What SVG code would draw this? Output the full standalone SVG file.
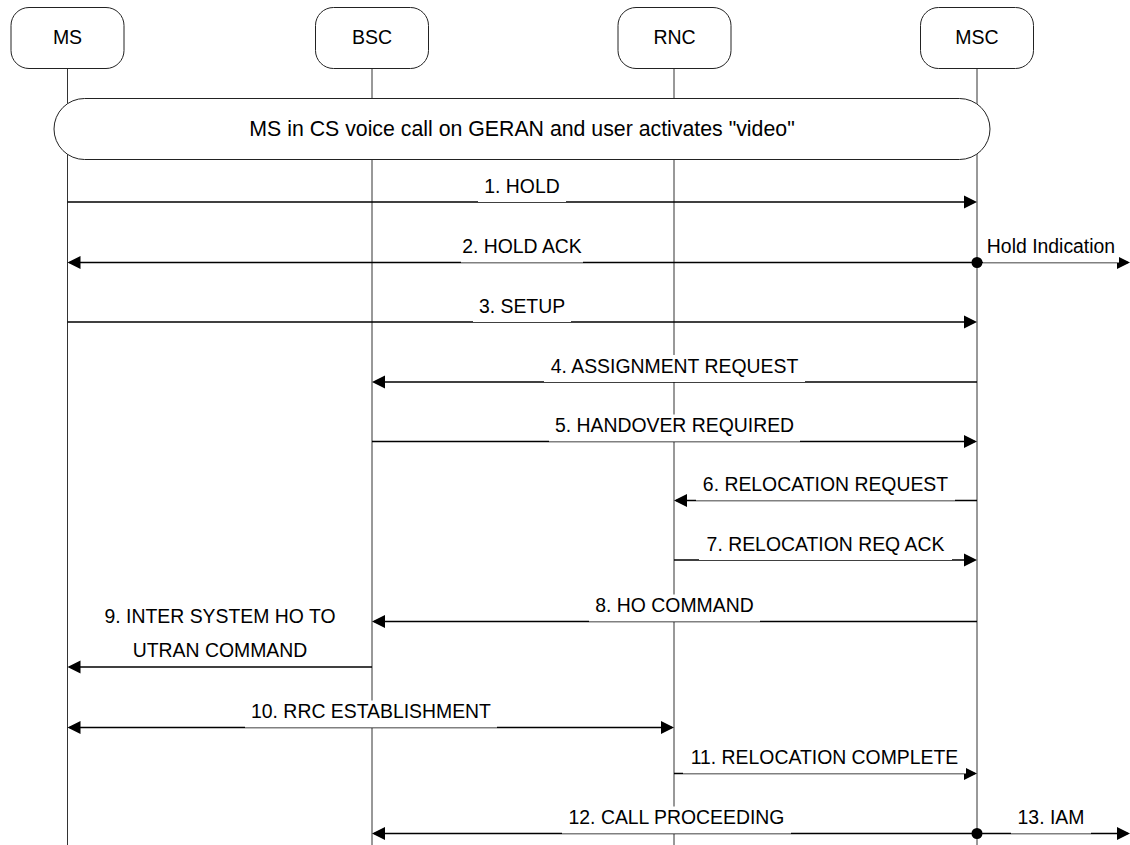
<svg xmlns="http://www.w3.org/2000/svg" width="1130" height="845" viewBox="0 0 1130 845">
<style>
.box{fill:#fff;stroke:#222;stroke-width:1}
.life{stroke:#333;stroke-width:1;fill:none}
.msg{stroke:#000;stroke-width:1.3;fill:none}
.lbl{font-family:"Liberation Sans",Arial,sans-serif;font-size:19.4px;fill:#000;text-anchor:middle}
.nlbl{font-family:"Liberation Sans",Arial,sans-serif;font-size:19.5px;fill:#000;text-anchor:middle}
.bg{fill:#fff}
.dot{fill:#000}
</style>
<defs>
<marker id="arr" markerUnits="userSpaceOnUse" markerWidth="14" markerHeight="14" refX="11" refY="6.5" orient="auto-start-reverse" viewBox="0 0 14 13">
<path d="M0,0 L13,6.5 L0,13 z" fill="#000"/>
</marker>
</defs>
<rect width="1130" height="845" fill="#fff"/>
<g id="lifelines">
<line class="life" x1="67.5" y1="68" x2="67.5" y2="845"/>
<line class="life" x1="372" y1="68" x2="372" y2="845"/>
<line class="life" x1="674" y1="68" x2="674" y2="845"/>
<line class="life" x1="977" y1="68" x2="977" y2="845"/>
</g>
<g id="MS"><rect class="box" x="11" y="7.5" width="113" height="61" rx="18"/><text class="nlbl" x="67.5" y="44">MS</text></g>
<g id="BSC"><rect class="box" x="315.5" y="7.5" width="113" height="61" rx="18"/><text class="nlbl" x="372" y="44">BSC</text></g>
<g id="RNC"><rect class="box" x="618" y="7.5" width="113" height="61" rx="18"/><text class="nlbl" x="674.5" y="44">RNC</text></g>
<g id="MSC"><rect class="box" x="920.5" y="7.5" width="113" height="61" rx="18"/><text class="nlbl" x="977" y="44">MSC</text></g>
<g id="banner"><rect class="box" x="54" y="98.5" width="936" height="61" rx="30.5"/><text x="522" y="136" style="font-family:'Liberation Sans',Arial,sans-serif;font-size:21.3px;text-anchor:middle">MS in CS voice call on GERAN and user activates "video"</text></g>
<g id="connectors">
<g id="m1"><line class="msg" x1="67.5" y1="202" x2="975" y2="202" marker-end="url(#arr)"/><rect class="bg" x="478" y="175" width="88" height="27"/><text class="lbl" x="522" y="192.5">1. HOLD</text></g>
<g id="m2"><line class="msg" x1="977" y1="262.5" x2="69.5" y2="262.5" marker-end="url(#arr)"/><rect class="bg" x="461" y="235.5" width="122" height="27"/><text class="lbl" x="522" y="253">2. HOLD ACK</text>
<line class="msg" x1="977" y1="262.5" x2="1128" y2="262.5" marker-end="url(#arr)"/><rect class="bg" x="983" y="235.5" width="136" height="27"/><text class="lbl" x="1051" y="253">Hold Indication</text><circle class="dot" cx="977" cy="262.5" r="5.5"/></g>
<g id="m3"><line class="msg" x1="67.5" y1="322" x2="975" y2="322" marker-end="url(#arr)"/><rect class="bg" x="473" y="295" width="98" height="27"/><text class="lbl" x="522" y="312.5">3. SETUP</text></g>
<g id="m4"><line class="msg" x1="977" y1="382" x2="374" y2="382" marker-end="url(#arr)"/><rect class="bg" x="544" y="355" width="261" height="27"/><text class="lbl" x="674.5" y="372.5">4. ASSIGNMENT REQUEST</text></g>
<g id="m5"><line class="msg" x1="372" y1="441.5" x2="975" y2="441.5" marker-end="url(#arr)"/><rect class="bg" x="549" y="414.5" width="251" height="27"/><text class="lbl" x="674.5" y="432">5. HANDOVER REQUIRED</text></g>
<g id="m6"><line class="msg" x1="977" y1="500.5" x2="676" y2="500.5" marker-end="url(#arr)"/><rect class="bg" x="696" y="473.5" width="259" height="27"/><text class="lbl" x="825.5" y="491">6. RELOCATION REQUEST</text></g>
<g id="m7"><line class="msg" x1="674" y1="560" x2="975" y2="560" marker-end="url(#arr)"/><rect class="bg" x="699" y="533" width="253" height="27"/><text class="lbl" x="825.5" y="550.5">7. RELOCATION REQ ACK</text></g>
<g id="m8"><line class="msg" x1="977" y1="621.5" x2="374" y2="621.5" marker-end="url(#arr)"/><rect class="bg" x="589" y="594.5" width="171" height="27"/><text class="lbl" x="674.5" y="612">8. HO COMMAND</text></g>
<g id="m9"><line class="msg" x1="372" y1="667" x2="69.5" y2="667" marker-end="url(#arr)"/><text class="lbl" x="220" y="623.3">9. INTER SYSTEM HO TO</text><text class="lbl" x="220" y="656.7">UTRAN COMMAND</text></g>
<g id="m10"><line class="msg" x1="69.5" y1="727.5" x2="672" y2="727.5" marker-start="url(#arr)" marker-end="url(#arr)"/><rect class="bg" x="245" y="700.5" width="252" height="27"/><text class="lbl" x="371" y="718">10. RRC ESTABLISHMENT</text></g>
<g id="m11"><line class="msg" x1="674" y1="773.5" x2="975" y2="773.5" marker-end="url(#arr)"/><rect class="bg" x="683" y="746.5" width="283" height="27"/><text class="lbl" x="824.5" y="764">11. RELOCATION COMPLETE</text></g>
<g id="m12"><line class="msg" x1="977" y1="833.5" x2="374" y2="833.5" marker-end="url(#arr)"/><rect class="bg" x="562" y="806.5" width="229" height="27"/><text class="lbl" x="676.5" y="824">12. CALL PROCEEDING</text>
<line class="msg" x1="977" y1="833.5" x2="1128" y2="833.5" marker-end="url(#arr)"/><rect class="bg" x="1011" y="806.5" width="80" height="27"/><text class="lbl" x="1051" y="824">13. IAM</text><circle class="dot" cx="977" cy="833.5" r="5.5"/></g>
</g>
</svg>
